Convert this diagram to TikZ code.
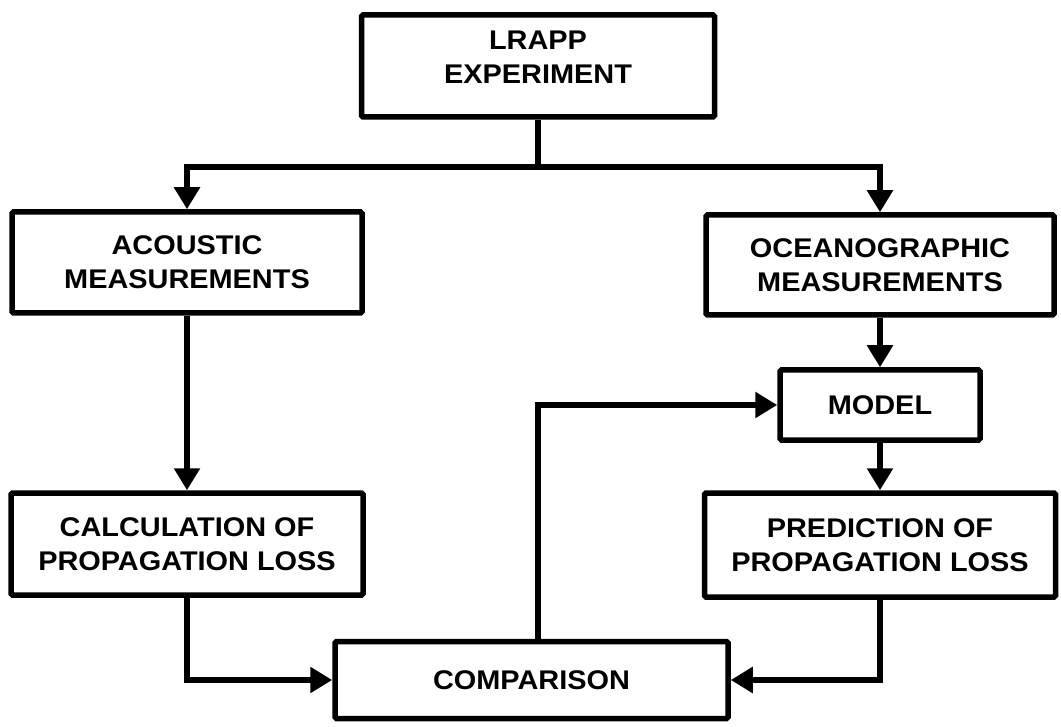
\documentclass[tikz,border=0pt]{standalone}
\usepackage{fontspec}
\setmainfont{Liberation Sans}[FakeStretch=1.07]
\usetikzlibrary{arrows.meta}
\begin{document}
\begin{tikzpicture}[x=1pt,y=-1pt,
  box/.style={draw, line width=5.5pt, rounded corners=1.5pt, align=center, inner sep=0pt,
    font=\fontsize{27}{34}\selectfont\bfseries},
  conn/.style={line width=5.5pt},
  arr/.style={conn, -{Triangle[length=22pt,width=25pt]}}]
\useasboundingbox (0,0) rectangle (1061,727);
\node[box, minimum width=353pt, minimum height=102pt] (lrapp) at (538,66)
  {\raisebox{0pt}[0pt][0pt]{\begin{tabular}{@{}c@{}}LRAPP\\EXPERIMENT\end{tabular}}};
\node[box, minimum width=350pt, minimum height=101pt] (acou) at (187,262.5) {ACOUSTIC\\MEASUREMENTS};
\node[box, minimum width=348pt, minimum height=100pt] (ocean) at (880,265) {OCEANOGRAPHIC\\MEASUREMENTS};
\node[box, minimum width=200pt, minimum height=70pt] (model) at (880,405) {MODEL};
\node[box, minimum width=352pt, minimum height=102pt] (calc) at (187,544) {CALCULATION OF\\PROPAGATION LOSS};
\node[box, minimum width=351pt, minimum height=104pt] (pred) at (880,545) {PREDICTION OF\\PROPAGATION LOSS};
\node[box, minimum width=393pt, minimum height=77pt] (comp) at (531.5,680) {COMPARISON};
\coordinate (j) at (538,167);
\coordinate (up) at (538,643);
\draw[conn] (lrapp.south) -- (j);
\draw[arr] ([xshift=2.5pt]j) -| (acou.north);
\draw[arr] ([xshift=-2.5pt]j) -| (ocean.north);
\draw[arr] (acou.south) -- (calc.north);
\draw[arr] (ocean.south) -- (model.north);
\draw[arr] (model.south) -- (pred.north);
\draw[arr] (calc.south) |- (comp.west);
\draw[arr] (pred.south) |- (comp.east);
\draw[arr] (up) |- (model.west);
\end{tikzpicture}
\end{document}
